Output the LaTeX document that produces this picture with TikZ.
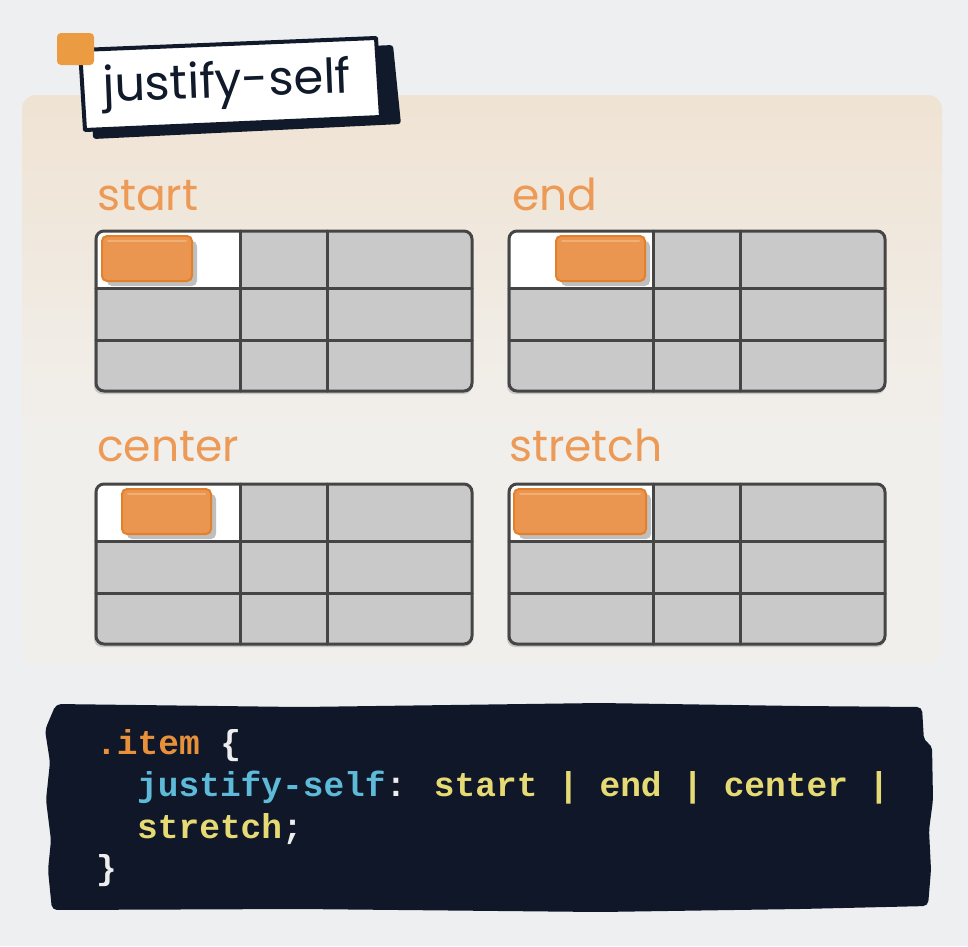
\documentclass[tikz,border=0pt]{standalone}
\usepackage{fontspec}
\newfontfamily\roundfont{Poppins}
\newfontfamily\codefont{Liberation Mono}
\definecolor{bg}{HTML}{EEEFF1}
\definecolor{paneltop}{HTML}{EED9BE}
\definecolor{panelmid}{HTML}{F1EFEC}
\definecolor{navy}{HTML}{111A2B}
\definecolor{codebg}{HTML}{0F1729}
\definecolor{sq}{HTML}{EB9B42}
\definecolor{lbl}{HTML}{EC9A55}
\definecolor{itemfill}{HTML}{EB9650}
\definecolor{itemborder}{HTML}{E3802C}
\definecolor{itemhi}{HTML}{F1AE75}
\definecolor{gridfill}{HTML}{C9C9C9}
\definecolor{gridline}{HTML}{454545}
\definecolor{corange}{HTML}{E8913A}
\definecolor{ccyan}{HTML}{5DBAD8}
\definecolor{cyellow}{HTML}{E6DA74}
\definecolor{cwhite}{HTML}{EDEDED}
\pgfdeclareverticalshading{panelshade}{100bp}{color(0bp)=(bg); color(25bp)=(panelmid); color(45bp)=(panelmid); color(100bp)=(paneltop)}
\tikzset{
  lbltext/.style={font=\roundfont\fontsize{44}{44}\selectfont, text=lbl, inner sep=0pt, anchor=base west},
  codetext/.style={font=\codefont\bfseries\fontsize{34.5}{34.5}\selectfont, inner sep=0pt, anchor=base west},
  gridrule/.style={draw=gridline, line width=3pt, line cap=round},
}
\newcommand\jsgrid[4]{%
  \begin{scope}[shift={(#1,#2)}]
    \fill[black!22, rounded corners=8] (-2,3) rectangle (376,163);
    \fill[gridfill, rounded corners=8] (0,0) rectangle (376,160);
    \begin{scope}
      \clip[rounded corners=8] (0,0) rectangle (376,160);
      \fill[white] (0,0) rectangle (144,57);
    \end{scope}
    \fill[black!25, rounded corners=5] (#3+5,10) rectangle (#4+5,55);
    \filldraw[fill=itemfill, draw=itemborder, line width=2pt, rounded corners=5] (#3,5) rectangle (#4,50);
    \draw[itemhi, line width=2pt, line cap=round] (#3+6,10) -- (#4-6,10);
    \draw[gridrule] (144,0) -- (144,160);
    \draw[gridrule] (231,0) -- (231,160);
    \draw[gridrule] (0,57) -- (376,57);
    \draw[gridrule] (0,109) -- (376,109);
    \draw[gridrule, rounded corners=8] (0,0) rectangle (376,160);
  \end{scope}}
\begin{document}
\begin{tikzpicture}[x=1pt, y=-1pt]
\useasboundingbox (0,0) rectangle (968,946);
\fill[bg] (0,0) rectangle (968,946);
% panel
\shade[shading=panelshade, rounded corners=14] (22,95) rectangle (942,665);
% title
\fill[navy, rounded corners=3] (90,58) -- (393,45) -- (401,124) -- (93,139) -- cycle;
\filldraw[fill=white, draw=navy, line width=4pt, line join=round] (80,50) -- (376,38) -- (381,117) -- (85,130) -- cycle;
\fill[sq, rounded corners=4] (57,33) rectangle (94,65);
\node[font=\roundfont\fontsize{48}{48}\selectfont, text=navy, inner sep=0pt, anchor=base west, rotate=2.2] (title) at (103,102) {justify-self};
% labels
\node[lbltext] (lstart) at (97,210) {start};
\node[lbltext] (lend) at (512,210) {end};
\node[lbltext] (lcenter) at (97,461) {center};
\node[lbltext] (lstretch) at (509,461) {stretch};
% grids
\jsgrid{96}{231}{6}{96}
\jsgrid{509}{231}{47}{136}
\jsgrid{96}{484}{26}{115}
\jsgrid{509}{484}{5}{137}
% code block
\fill[codebg, rounded corners=5] (56,704) -- (300,707) -- (600,703) -- (800,706) -- (922,707)
  -- (924,741) -- (932,745) -- (933,800) -- (929,830) -- (931,870) -- (928,906)
  -- (800,909) -- (600,912) -- (300,909) -- (52,910)
  -- (48,870) -- (51,840) -- (46,800) -- (50,762) -- (45,730) -- cycle;
\node[codetext] (code1) at (96,754) {\textcolor{corange}{.item} \textcolor{cwhite}{\{}};
\node[codetext] (code2) at (137,796) {\textcolor{ccyan}{justify-self}\textcolor{cwhite}{:} \textcolor{cyellow}{start | end | center |}};
\node[codetext] (code3) at (137,838) {\textcolor{cyellow}{stretch}\textcolor{cwhite}{;}};
\node[codetext] (code4) at (96,879) {\textcolor{cwhite}{\}}};
\end{tikzpicture}
\end{document}
